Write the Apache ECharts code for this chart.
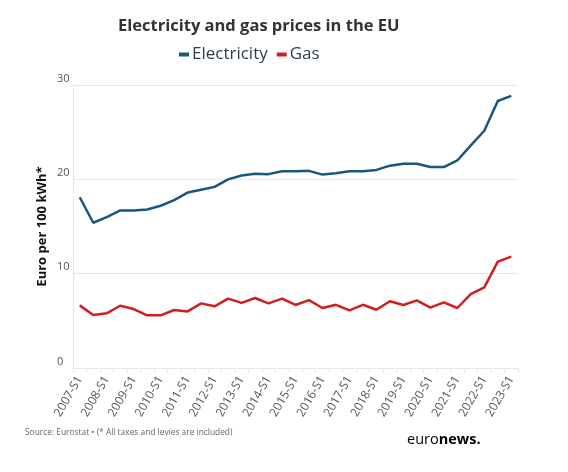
<!DOCTYPE html>
<html><head><meta charset="utf-8">
<script src="https://cdn.jsdelivr.net/npm/echarts@6/dist/echarts.min.js"></script>
<style>html,body{margin:0;padding:0;background:#fff}#c{width:568px;height:472px}</style>
</head><body><div id="c"></div>
<script>
const categories = [];
for (let y = 2007; y <= 2023; y++) { categories.push(y + '-S1'); if (y < 2023) categories.push(y + '-S2'); }
const electricity = [18.1, 15.4, 16.0, 16.7, 16.7, 16.8, 17.2, 17.8, 18.6, 18.9, 19.2, 20.0, 20.4, 20.6, 20.55, 20.85, 20.85, 20.9, 20.5, 20.65, 20.85, 20.85, 21.0, 21.45, 21.65, 21.65, 21.3, 21.3, 22.0, 23.6, 25.15, 28.3, 28.85];
const gas = [6.64, 5.62, 5.8, 6.6, 6.25, 5.58, 5.58, 6.15, 6.0, 6.85, 6.54, 7.35, 6.9, 7.42, 6.85, 7.35, 6.68, 7.2, 6.36, 6.7, 6.1, 6.7, 6.18, 7.07, 6.68, 7.17, 6.4, 6.96, 6.36, 7.84, 8.55, 11.27, 11.8];
const yTicks = [0, 10, 20, 30];

const chart = echarts.init(document.getElementById('c'), null, {renderer: 'canvas'});
chart.setOption({
  backgroundColor: '#fff',
  textStyle: {fontFamily: 'Open Sans'},
  title: {
    text: 'Electricity and gas prices in the EU',
    left: 113, top: 13,
    textStyle: {fontFamily: 'Open Sans', fontSize: 16.5, fontWeight: 'bold', color: '#333'}
  },
  legend: {
    top: 41, left: 174,
    itemWidth: 10, itemHeight: 4, itemGap: 9,
    icon: 'rect',
    textStyle: {fontFamily: 'Open Sans', fontSize: 17, color: '#2d3e50', padding: [0,0,0,-2]},
    data: ['Electricity', 'Gas']
  },
  grid: {left: 73, right: 50, top: 85, bottom: 104},
  xAxis: {
    type: 'category', data: categories, boundaryGap: true,
    axisLine: {lineStyle: {color: '#e6e6e6'}},
    axisTick: {show: true, interval: 0, length: 5, lineStyle: {color: '#e6e6e6'}},
    axisLabel: {interval: 1, rotate: 60, fontSize: 12, color: '#555', margin: 9, fontFamily: 'Open Sans'}
  },
  yAxis: {
    type: 'value', min: yTicks[0], max: yTicks[yTicks.length - 1], interval: 10,
    name: 'Euro per 100 kWh*', nameLocation: 'middle', nameGap: 24, nameRotate: 90,
    nameMoveOverlap: false,
    nameTextStyle: {fontFamily: 'Open Sans', fontSize: 13, fontWeight: 'bold', color: '#111'},
    axisLine: {show: true, lineStyle: {color: '#e6e6e6'}},
    axisTick: {show: false},
    splitLine: {lineStyle: {color: '#e6e6e6'}},
    axisLabel: {color: '#555', fontSize: 11, verticalAlign: 'bottom', align: 'left', margin: 16, padding: [0,0,1,0], fontFamily: 'Open Sans'}
  },
  series: [
    {name: 'Electricity', type: 'line', data: electricity, showSymbol: false, symbol: 'none',
     lineStyle: {width: 2.5, color: '#17587c'}, itemStyle: {color: '#17587c'}},
    {name: 'Gas', type: 'line', data: gas, showSymbol: false, symbol: 'none',
     lineStyle: {width: 2.5, color: '#d21e1e'}, itemStyle: {color: '#d21e1e'}}
  ],
  graphic: [
    {type: 'text', left: 25, top: 429, style: {text: 'Source: Eurostat • (* All taxes and levies are included)', fill: '#666', font: '8.4px "Open Sans"'}},
    {type: 'text', left: 407, top: 432, style: {
      text: '{a|euro}{b|news}{c|.}',
      rich: {
        a: {fontFamily: 'Open Sans', fontSize: 14.5, color: '#1c3d7a', fontWeight: 'normal'},
        b: {fontFamily: 'Open Sans', fontSize: 14.5, color: '#1c3d7a', fontWeight: 'bold'},
        c: {fontFamily: 'Open Sans', fontSize: 14.5, color: '#1c3d7a', fontWeight: 'bold'}
      }
    }}
  ]
});
</script></body></html>
